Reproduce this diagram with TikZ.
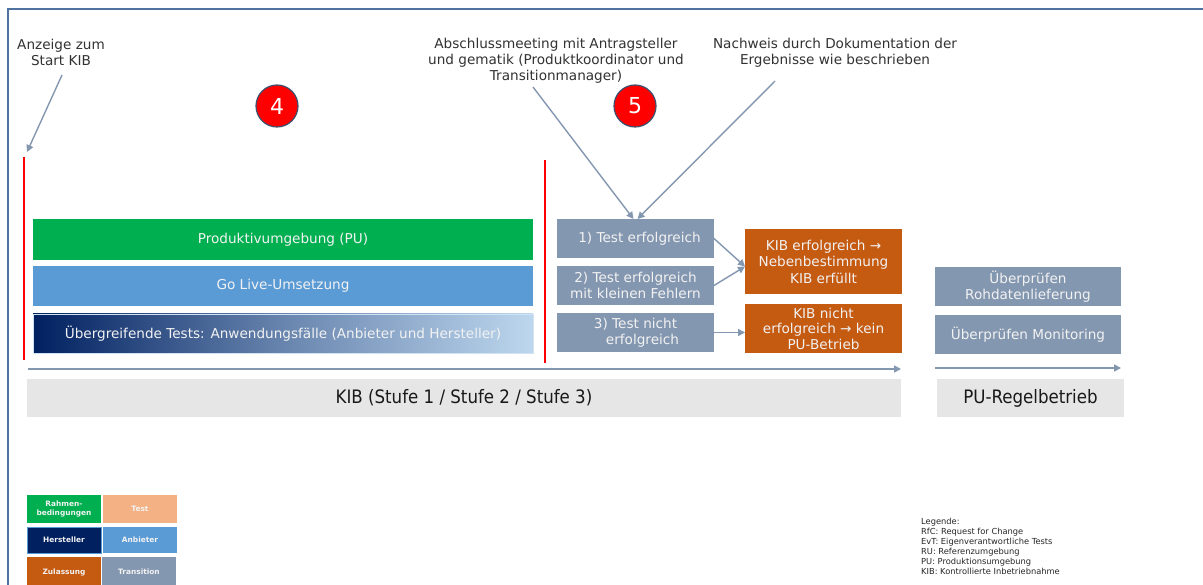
\documentclass[tikz,border=0pt]{standalone}
\usepackage{fontspec}
\setmainfont{DejaVu Sans}
\newfontfamily\condfont{DejaVu Sans Condensed}
\usetikzlibrary{calc,arrows.meta}
\definecolor{frameblue}{RGB}{79,114,160}
\definecolor{pugreen}{RGB}{0,176,80}
\definecolor{anblue}{RGB}{91,155,213}
\definecolor{navy}{RGB}{0,32,96}
\definecolor{lightblue}{RGB}{189,215,238}
\definecolor{transgray}{RGB}{132,151,176}
\definecolor{zulorange}{RGB}{197,90,17}
\definecolor{testpeach}{RGB}{244,177,131}
\definecolor{phasegray}{RGB}{230,230,230}
\definecolor{arrowgray}{RGB}{132,151,176}
\definecolor{anntext}{RGB}{50,50,50}
\definecolor{boxtext}{RGB}{242,242,242}
\definecolor{circborder}{RGB}{60,80,110}
\tikzset{
  bx/.style={minimum width=#1, inner sep=0pt, outer sep=0pt, align=center, text=boxtext, font=\fontsize{13.6}{16.5}\selectfont},
  ann/.style={align=center, text=anntext, font=\fontsize{13.6}{16}\selectfont, inner sep=0pt},
  conn/.style={draw=arrowgray, line width=1.4pt, -{Triangle[length=7pt,width=7pt]}},
  redline/.style={draw=red, line width=1.8pt},
  numcirc/.style={circle, fill=red, draw=circborder, line width=1.2pt, minimum size=42pt, inner sep=0pt, text=white, font=\fontsize{22}{22}\selectfont},
  leg/.style={minimum width=74pt, inner sep=0pt, outer sep=0pt, align=center, text=boxtext, font=\fontsize{7.4}{9}\selectfont\bfseries},
  phase/.style={fill=phasegray, minimum height=38pt, inner sep=0pt, text=black!90, font=\condfont\fontsize{18.5}{18.5}\selectfont}
}
\begin{document}
\begin{tikzpicture}[x=1pt,y=-1pt]
\clip (0,0) rectangle (1203,585);
\fill[white] (0,0) rectangle (1203,585);
% frame
\draw[frameblue, line width=2pt] (8,590) -- (8,9) -- (1210,9);

% annotations
\node[ann] (annstart) at (61,52) {Anzeige zum\\Start KIB};
\node[ann] (annmeet) at (556,61) {Abschlussmeeting mit Antragsteller\\und gematik (Produktkoordinator und\\Transitionmanager)};
\node[ann] (anndoc) at (835,53) {Nachweis durch Dokumentation der\\Ergebnisse wie beschrieben};

% number circles
\node[numcirc] (c4) at (277,106) {4};
\node[numcirc] (c5) at (635,106) {5};

% red lines
\coordinate (r1a) at (24,157);
\coordinate (r1b) at (24,360);
\coordinate (r2a) at (545,160);
\coordinate (r2b) at (545,363);
\draw[redline] (r1a) -- (r1b);
\draw[redline] (r2a) -- (r2b);

% left boxes
\node[bx=500pt, minimum height=41pt, fill=pugreen] (pu) at (283,239.5) {Produktivumgebung (PU)};
\node[bx=500pt, minimum height=40pt, fill=anblue] (golive) at (283,286) {Go Live-Umsetzung};
\node[bx=500pt, minimum height=39pt, left color=navy, right color=lightblue, middle color=navy!45!lightblue, draw=lightblue!70!white, line width=0.6pt] (tests) at (283,333.5) {Übergreifende Tests: Anwendungsfälle (Anbieter und Hersteller)};

% transition boxes
\node[bx=157pt, minimum height=39pt, fill=transgray] (t1) at (635.5,238.5) {\hspace*{8pt}1) Test erfolgreich};
\node[bx=157pt, minimum height=39pt, fill=transgray] (t2) at (635.5,285.5) {2) Test erfolgreich\\mit kleinen Fehlern};
\node[bx=157pt, minimum height=39pt, fill=transgray] (t3) at (635.5,332.5) {3) Test nicht\\\hspace*{14pt}erfolgreich};

% outcome boxes
\node[bx=157pt, minimum height=65pt, fill=zulorange] (o1) at (823.5,261.5) {KIB erfolgreich →\\Nebenbestimmung\\KIB erfüllt};
\node[bx=157pt, minimum height=49pt, fill=zulorange, font=\fontsize{13.6}{15.5}\selectfont] (o2) at (823.5,328.5) {KIB nicht\\erfolgreich → kein\\PU-Betrieb};

% right boxes
\node[bx=186pt, minimum height=39pt, fill=transgray] (rb1) at (1028,286.5) {Überprüfen\\Rohdatenlieferung};
\node[bx=186pt, minimum height=39pt, fill=transgray] (rb2) at (1028,334.5) {Überprüfen Monitoring};

% phases
\node[phase, minimum width=874pt] (kib) at (464,398) {KIB (Stufe 1 / Stufe 2 / Stufe 3)};
\node[phase, minimum width=187pt] (pur) at (1030.5,398) {PU-Regelbetrieb};

% timeline arrows
\coordinate (tl1a) at (28,369);
\coordinate (tl1b) at (901,369);
\coordinate (tl2a) at (935,368);
\coordinate (tl2b) at (1121,368);
\draw[conn, line width=1.6pt] (tl1a) -- (tl1b);
\draw[conn, line width=1.6pt] (tl2a) -- (tl2b);

% annotation arrows
\coordinate (s1) at (62,75);
\coordinate (s1e) at (27,152);
\draw[conn] (s1) -- (s1e);
\coordinate (m1) at (533,87);
\coordinate (d1) at (775,81);
\draw[conn] (m1) -- ($(t1.north)+(-2,0)$);
\draw[conn] (d1) -- ($(t1.north)+(2,0)$);

% result arrows
\draw[conn] (t1.east) -- ($(o1.west)+(0,5)$);
\draw[conn] (t2.east) -- ($(o1.west)+(0,5)$);
\draw[conn] (t3.east) -- (t3.east -| o2.west);

% colour legend
\node[leg, minimum height=28pt, fill=pugreen] (lg1) at (64,509) {Rahmen-\\bedingungen};
\node[leg, minimum height=28pt, fill=testpeach] (lg2) at (140,509) {Test};
\node[leg, minimum height=26pt, fill=navy, draw=anblue, line width=1pt] (lg3) at (64,540) {Hersteller};
\node[leg, minimum height=26pt, fill=anblue] (lg4) at (140,540) {Anbieter};
\node[leg, minimum height=30pt, fill=zulorange] (lg5) at (64,572) {Zulassung};
\node[leg, minimum height=30pt, fill=transgray] (lg6) at (139,572) {Transition};

% abbreviations legend
\node[anchor=north west, align=left, inner sep=0pt, text=black!85, font=\fontsize{8.3}{10}\selectfont] (abbr) at (921,518) {Legende:\\RfC: Request for Change\\EvT: Eigenverantwortliche Tests\\RU: Referenzumgebung\\PU: Produktionsumgebung\\KIB: Kontrollierte Inbetriebnahme};
\end{tikzpicture}
\end{document}
